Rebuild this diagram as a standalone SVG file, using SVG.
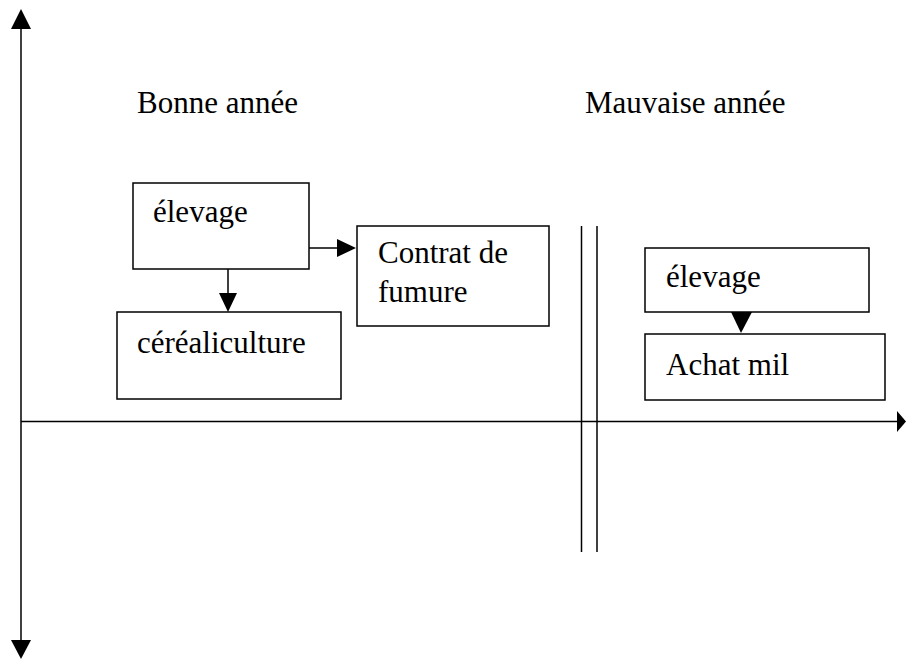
<svg xmlns="http://www.w3.org/2000/svg" width="906" height="659" viewBox="0 0 906 659">
<style>
.box{fill:#fff;stroke:#000;stroke-width:1.5}
.ln{stroke:#000;stroke-width:1.5;fill:none}
.t{font-family:"Liberation Serif","Times New Roman",serif;font-size:31px;fill:#000}
.ah{fill:#000}
</style>
<rect width="906" height="659" fill="#fff"/>
<g id="axes">
<line class="ln" x1="21" y1="28" x2="21" y2="641"/>
<polygon class="ah" points="21,9 11,29 31,29"/>
<polygon class="ah" points="21,659 11,640 31,640"/>
<line class="ln" x1="21" y1="421.5" x2="898" y2="421.5"/>
<polygon class="ah" points="906,421.5 897,411 897,432"/>
</g>
<g id="separator">
<line class="ln" x1="581.5" y1="226" x2="581.5" y2="552"/>
<line class="ln" x1="597" y1="226" x2="597" y2="552"/>
</g>
<g id="labels">
<text class="t" x="137" y="113">Bonne année</text>
<text class="t" x="585" y="113">Mauvaise année</text>
</g>
<g id="connectors">
<line class="ln" x1="309" y1="248" x2="338" y2="248"/>
<polygon class="ah" points="356,248 337,239 337,257"/>
<line class="ln" x1="228" y1="269" x2="228" y2="294"/>
<polygon class="ah" points="228,312 219,293 237,293"/>
<polygon class="ah" points="741,333 731,312 752,312"/>
</g>
<g id="elevage1">
<rect class="box" x="133" y="183" width="176" height="86"/>
<text class="t" x="153" y="222">élevage</text>
</g>
<g id="contrat">
<rect class="box" x="357" y="226" width="192" height="100"/>
<text class="t" x="378" y="263">Contrat de</text>
<text class="t" x="378" y="302">fumure</text>
</g>
<g id="cerealiculture">
<rect class="box" x="117" y="312" width="224" height="87"/>
<text class="t" x="137" y="353">céréaliculture</text>
</g>
<g id="elevage2">
<rect class="box" x="645" y="248" width="224" height="64"/>
<text class="t" x="666" y="287">élevage</text>
</g>
<g id="achat">
<rect class="box" x="645" y="334" width="240" height="66"/>
<text class="t" x="666" y="375">Achat mil</text>
</g>
</svg>
